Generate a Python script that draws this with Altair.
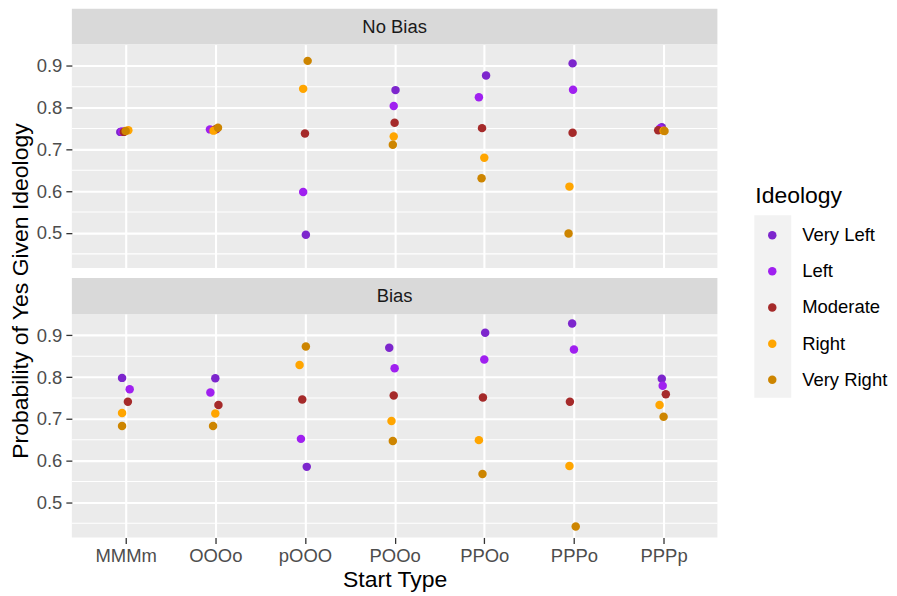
import json
import altair as alt
import pandas as pd

FONT = "Liberation Sans"

start_types = ["MMMm", "OOOo", "pOOO", "POOo", "PPOo", "PPPo", "PPPp"]
ideologies = ["Very Left", "Left", "Moderate", "Right", "Very Right"]
ideology_colors = ["#7D26CD", "#A020F0", "#A52A2A", "#FFA500", "#CD8500"]
bias_levels = ["No Bias", "Bias"]

# probability of yes, per ideology, in start_types order
no_bias_vals = {
    "Very Left":  [0.742, 0.749, 0.496, 0.842, 0.877, 0.906, 0.753],
    "Left":       [0.743, 0.748, 0.598, 0.804, 0.825, 0.843, 0.750],
    "Moderate":   [0.742, 0.748, 0.738, 0.764, 0.751, 0.740, 0.746],
    "Right":      [0.746, 0.745, 0.845, 0.731, 0.680, 0.611, 0.745],
    "Very Right": [0.744, 0.752, 0.912, 0.711, 0.631, 0.499, 0.744],
}
bias_vals = {
    "Very Left":  [0.798, 0.797, 0.585, 0.870, 0.906, 0.928, 0.796],
    "Left":       [0.771, 0.763, 0.652, 0.821, 0.842, 0.866, 0.779],
    "Moderate":   [0.741, 0.733, 0.746, 0.756, 0.751, 0.741, 0.759],
    "Right":      [0.714, 0.713, 0.829, 0.695, 0.649, 0.587, 0.733],
    "Very Right": [0.683, 0.683, 0.873, 0.647, 0.568, 0.442, 0.705],
}
# horizontal jitter (category units)
no_bias_jitter = {
    "Very Left":  [-0.06, 0.015, 0.01, 0.01, 0.02, -0.015, -0.02],
    "Left":       [-0.04, -0.06, -0.02, -0.01, -0.06, -0.01, -0.04],
    "Moderate":   [-0.02, 0.0, 0.0, 0.0, -0.025, -0.015, -0.06],
    "Right":      [0.03, -0.02, -0.02, -0.01, 0.0, -0.05, 0.0],
    "Very Right": [0.0, 0.03, 0.03, -0.02, -0.03, -0.06, 0.01],
}
bias_jitter = {
    "Very Left":  [-0.04, 0.0, 0.02, -0.06, 0.01, -0.02, -0.02],
    "Left":       [0.045, -0.055, -0.045, 0.0, 0.0, 0.0, -0.01],
    "Moderate":   [0.025, 0.035, -0.03, -0.01, -0.015, -0.045, 0.025],
    "Right":      [-0.04, 0.0, -0.06, -0.035, -0.06, -0.05, -0.045],
    "Very Right": [-0.04, -0.025, 0.01, -0.02, -0.02, 0.02, 0.0],
}
y_breaks = [0.5, 0.6, 0.7, 0.8, 0.9]
y_minor = [0.45, 0.55, 0.65, 0.75, 0.85]

rows = []
for b, vals, jit in [("No Bias", no_bias_vals, no_bias_jitter), ("Bias", bias_vals, bias_jitter)]:
    for ideo in ideologies:
        for j, st in enumerate(start_types):
            rows.append({"bias": b, "ideology": ideo, "start": st,
                         "prob": vals[ideo][j], "pos": j + 1 + jit[ideo][j]})
df = pd.DataFrame(rows)

W, H, SH, GAP = 647, 224, 36, 10
xscale = alt.Scale(domain=[0.4, 7.6], nice=False, zero=False)
yscale = alt.Scale(domain=[0.416, 0.951], nice=False, zero=False)
color = alt.Color("ideology:N", scale=alt.Scale(domain=ideologies, range=ideology_colors), legend=None)
label_expr = json.dumps(start_types) + "[round(datum.value) - 1]"
NOBG = alt.ViewBackground(fill="transparent", stroke="transparent")
yaxis = alt.Axis(values=y_breaks, format=".1f", grid=True, gridColor="white", gridWidth=2.1,
                 domain=False, tickSize=6, tickWidth=1.3, tickColor="#333333",
                 labelFontSize=18.5, labelColor="#4D4D4D", labelPadding=4, labelFont=FONT, title=None)


def panel(b, bottom):
    xaxis = alt.Axis(values=list(range(1, len(start_types) + 1)), labelExpr=label_expr,
                     grid=True, gridColor="white", gridWidth=2.1, domain=False,
                     ticks=bottom, labels=bottom, tickSize=6, tickWidth=1.3, tickColor="#333333",
                     labelFontSize=18.5, labelColor="#4D4D4D", labelPadding=3, labelFont=FONT,
                     title="Start Type" if bottom else None, titleFontSize=23, titleFontWeight="normal",
                     titleColor="black", titleFont=FONT, titlePadding=4)
    minor = alt.Chart(pd.DataFrame({"m": y_minor})).mark_rule(color="white", strokeWidth=1.05).encode(
        y=alt.Y("m:Q", scale=yscale, axis=yaxis))
    pts = alt.Chart(df[df.bias == b]).mark_circle(size=72, opacity=1).encode(
        x=alt.X("pos:Q", scale=xscale, axis=xaxis),
        y=alt.Y("prob:Q", scale=yscale, axis=yaxis),
        color=color,
        tooltip=["start:N", "ideology:N", "prob:Q"],
    )
    return alt.layer(minor, pts).properties(width=W, height=H)


def strip(b, gap):
    box = alt.Chart(pd.DataFrame({"a": [0]})).mark_rect(color="#D9D9D9").encode(
        x=alt.value(0), x2=alt.value(W), y=alt.value(gap), y2=alt.value(gap + SH))
    txt = alt.Chart(pd.DataFrame({"label": [b]})).mark_text(
        fontSize=18.5, color="#1A1A1A", font=FONT, baseline="middle", align="center").encode(
        text="label:N", x=alt.value(W / 2), y=alt.value(gap + SH / 2))
    return alt.layer(box, txt).properties(width=W, height=SH + gap, view=NOBG)


main = alt.vconcat(strip(bias_levels[0], 0), panel(bias_levels[0], False),
                   strip(bias_levels[1], GAP), panel(bias_levels[1], True),
                   spacing=0, bounds="flush")

TOTAL_H = 2 * (H + SH) + GAP

ytitle = alt.Chart(pd.DataFrame({"t": ["Probability of Yes Given Ideology"]})).mark_text(
    angle=270, fontSize=23, font=FONT, color="black", baseline="middle", align="center").encode(
    text="t:N", x=alt.value(13), y=alt.value(283)).properties(width=28, height=TOTAL_H, view=NOBG)

LX = 36  # gap between panel edge and legend keys
leg_df = pd.DataFrame({"ideology": ideologies})
leg_y = alt.Y("ideology:N", scale=alt.Scale(type="point", domain=ideologies, range=[227, 372], padding=0),
              axis=None)
leg_box = alt.Chart(pd.DataFrame({"a": [0]})).mark_rect(color="#F2F2F2").encode(
    x=alt.value(LX), x2=alt.value(LX + 37), y=alt.value(207), y2=alt.value(390))
leg_pts = alt.Chart(leg_df).mark_circle(size=72, opacity=1).encode(x=alt.value(LX + 18), y=leg_y, color=color)
leg_txt = alt.Chart(leg_df).mark_text(align="left", baseline="middle", fontSize=18.5, font=FONT,
                                      color="black").encode(x=alt.value(LX + 48), y=leg_y, text="ideology:N")
leg_title = alt.Chart(pd.DataFrame({"t": ["Ideology"]})).mark_text(
    align="left", baseline="alphabetic", fontSize=23, font=FONT, color="black").encode(
    x=alt.value(LX + 1), y=alt.value(195), text="t:N")
legend = alt.layer(leg_box, leg_pts, leg_txt, leg_title).properties(width=LX + 135, height=TOTAL_H, view=NOBG)

chart = alt.hconcat(ytitle, main, legend, spacing=0).properties(
    padding={"left": 0, "top": 0, "right": 0, "bottom": 0}
).configure(font=FONT, background="white").configure_view(fill="#EBEBEB", strokeWidth=0)

chart.save("out.html", embed_options={"renderer": "svg", "actions": False})
